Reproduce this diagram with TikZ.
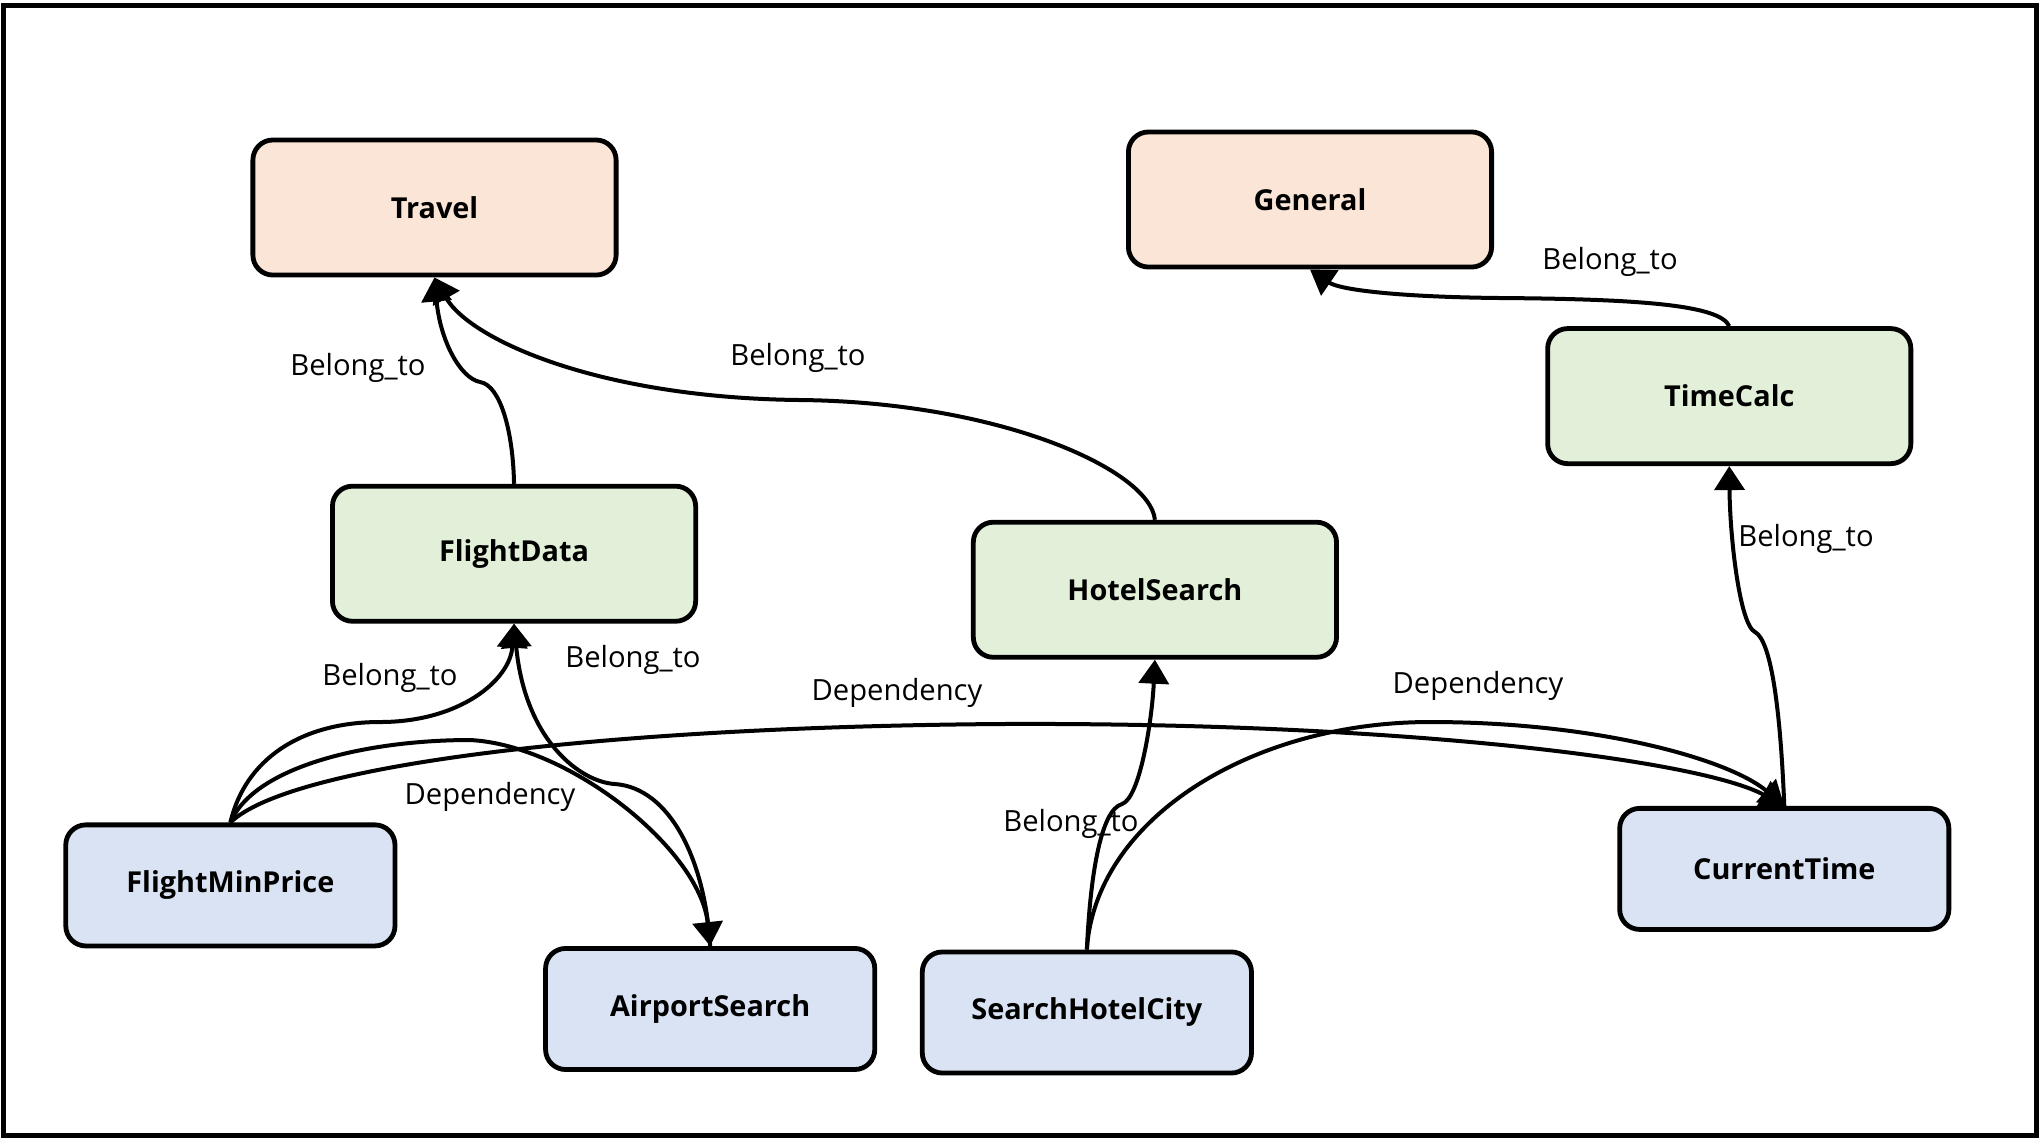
\documentclass[tikz,border=0pt]{standalone}
\usepackage{fontspec}
\setmainfont{Open Sans}
\usetikzlibrary{positioning,arrows.meta}

\definecolor{catfill}{HTML}{FBE5D6}
\definecolor{toolfill}{HTML}{E2F0D9}
\definecolor{apifill}{HTML}{DAE3F3}

\begin{document}
\begin{tikzpicture}[x=0.01cm, y=-0.01cm, on grid, auto,
    box/.style={draw, line width=0.048cm, rounded corners=0.2cm, font=\fontsize{8.2}{10}\selectfont\bfseries},
    cat/.style={box, fill=catfill, minimum width=3.63cm, minimum height=1.35cm},
    tool/.style={box, fill=toolfill, minimum width=3.63cm, minimum height=1.35cm},
    api/.style={box, fill=apifill, minimum width=3.29cm, minimum height=1.21cm},
    rel/.style={line width=0.04cm, -{Triangle[length=0.24cm,width=0.3cm]}},
    lbl/.style={font=\fontsize{8.3}{10}\selectfont, inner sep=0pt}]
    \useasboundingbox (0,0) rectangle (2039,1141);
    \draw[line width=0.05cm] (3.5,5.5) rectangle (2036.5,1135.5);

    \node[cat] (travel) at (434.5,207.5) {Travel};
    \node[cat, above right=0.08cm and 8.75cm of travel] (general) {General};
    \node[tool, below right=1.965cm and 4.19cm of general] (timecalc) {TimeCalc};
    \node[tool, below right=3.46cm and 0.795cm of travel] (flightdata) {FlightData};
    \node[tool, below right=0.36cm and 6.405cm of flightdata] (hotelsearch) {HotelSearch};
    \node[api, below left=3.315cm and 2.835cm of flightdata] (minprice) {FlightMinPrice};
    \node[api, below right=1.235cm and 4.795cm of minprice] (airport) {AirportSearch};
    \node[api, below right=0.035cm and 3.765cm of airport] (hotelcity) {SearchHotelCity};
    \node[api, above right=1.435cm and 6.97cm of hotelcity] (curtime) {CurrentTime};

    \draw[rel] (flightdata.north) .. controls (513,430) and (500,385) .. (480,382)
        .. controls (460,378) and (440,340) .. (travel.south);
    \draw[rel] (hotelsearch.north) .. controls (1150,470) and (1000,402) .. (800,400)
        .. controls (600,398) and (470,340) .. (travel.south);
    \draw[rel] (timecalc.north) .. controls (1720,305) and (1640,299) .. (1500,298)
        .. controls (1400,297) and (1340,290) .. (general.south);
    \draw[rel] (curtime.north) .. controls (1780,700) and (1770,640) .. (1755,632)
        .. controls (1740,625) and (1730,540) .. (timecalc.south);
    \draw[rel] (minprice.north) .. controls (245,760) and (300,722) .. (380,722)
        .. controls (460,722) and (510,680) .. (flightdata.south);
    \draw[rel] (airport.north) .. controls (705,860) and (670,788) .. (615,784)
        .. controls (580,782) and (525,740) .. (flightdata.south);
    \draw[rel] (minprice.north) .. controls (255,765) and (370,740) .. (470,740)
        .. controls (570,745) and (700,850) .. (airport.north);
    \draw[rel] (minprice.north) .. controls (290,765) and (600,727) .. (1000,724)
        .. controls (1400,722) and (1700,760) .. (curtime.north);
    \draw[rel] (hotelcity.north) .. controls (1090,880) and (1100,810) .. (1122,804)
        .. controls (1140,798) and (1152,720) .. (hotelsearch.south);
    \draw[rel] (hotelcity.north) .. controls (1095,820) and (1250,722) .. (1430,722)
        .. controls (1600,722) and (1730,760) .. (curtime.north);

    \node[lbl] (bflight) at (358,368) {Belong\_to};
    \node[lbl] (bhotel) at (798,358) {Belong\_to};
    \node[lbl] (btime) at (1610,262) {Belong\_to};
    \node[lbl] (bcur) at (1806,539) {Belong\_to};
    \node[lbl] (bmin) at (390,678) {Belong\_to};
    \node[lbl] (bair) at (633,660) {Belong\_to};
    \node[lbl] (dair) at (490,797) {Dependency};
    \node[lbl] (dcur) at (897,693) {Dependency};
    \node[lbl] (bcity) at (1071,824) {Belong\_to};
    \node[lbl] (dcity) at (1478,686) {Dependency};
\end{tikzpicture}
\end{document}
